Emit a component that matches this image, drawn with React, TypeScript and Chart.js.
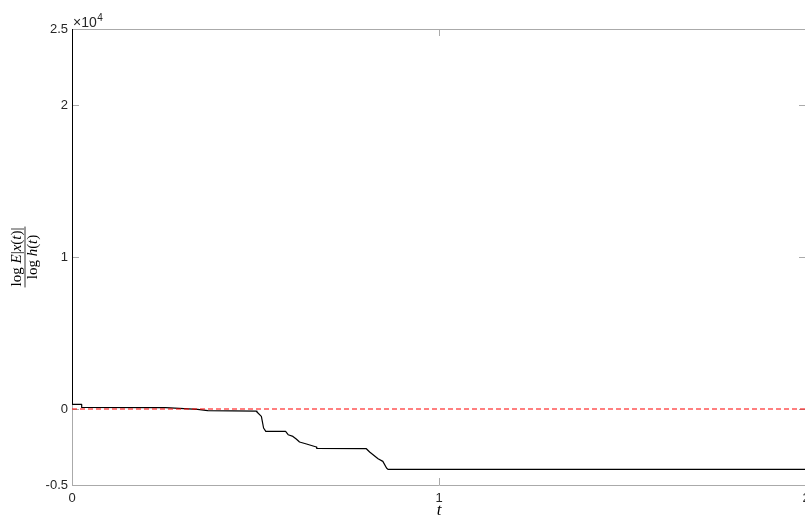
import React, { useEffect, useRef } from "react";
import { Chart, registerables } from "chart.js";

Chart.register(...registerables);

// ---- data ----
const curveT = [0, 0.0011, 0.0264, 0.0264, 0.255, 0.3425, 0.37, 0.502, 0.504, 0.516, 0.522, 0.528, 0.582, 0.589, 0.602, 0.611, 0.62, 0.639, 0.666, 0.667, 0.802, 0.811, 0.834, 0.847, 0.857, 0.861, 2];
const curveY = [25000, 303, 303, 105, 90, -26, -112, -145, -197, -487, -1250, -1474, -1474, -1691, -1803, -1974, -2171, -2303, -2500, -2592, -2612, -2829, -3270, -3447, -3882, -3974, -3974];
const refT = [0, 2];
const refY = [0, 0];
const xTicks = [0, 1, 2];
const xTickLabels = ["0", "1", "2"];
const yTicks = [-5000, 0, 10000, 20000, 25000];
const yTickLabels = ["-0.5", "0", "1", "2", "2.5"];
const yExponentBase = "\u00d710";
const yExponent = "4";
const xTitle = "t";

const TICK_FONT = { family: "'Liberation Sans', Arial, Helvetica, sans-serif", size: 13 };
const TEXT_COLOR = "#262626";
const AXIS_COLOR = "#aaaaaa";
const TICK_LEN = 7;
const SERIF = "'Liberation Serif', 'DejaVu Serif', serif";

const framePlugin = {
  id: "matlabFrame",
  beforeDatasetsDraw(chart: any) {
    const { ctx, chartArea } = chart;
    const { left, right, top, bottom } = chartArea;
    const xs = chart.scales.x;
    const ys = chart.scales.y;
    ctx.save();
    ctx.strokeStyle = AXIS_COLOR;
    ctx.lineWidth = 1;
    ctx.beginPath();
    ctx.rect(Math.round(left) + 0.5, Math.round(top) + 0.5, Math.round(right - left), Math.round(bottom - top));
    ctx.stroke();
    ctx.beginPath();
    for (const v of xTicks) {
      const px = Math.round(xs.getPixelForValue(v)) + 0.5;
      ctx.moveTo(px, bottom);
      ctx.lineTo(px, bottom - TICK_LEN);
      ctx.moveTo(px, top);
      ctx.lineTo(px, top + TICK_LEN);
    }
    for (const v of yTicks) {
      const py = Math.round(ys.getPixelForValue(v)) + 0.5;
      ctx.moveTo(left, py);
      ctx.lineTo(left + TICK_LEN, py);
      ctx.moveTo(right, py);
      ctx.lineTo(right - TICK_LEN, py);
    }
    ctx.stroke();
    ctx.restore();
  },
  afterDraw(chart: any) {
    const { ctx, chartArea } = chart;
    const { left, top, bottom } = chartArea;
    ctx.save();
    // exponent label
    ctx.fillStyle = TEXT_COLOR;
    ctx.textBaseline = "alphabetic";
    ctx.textAlign = "left";
    ctx.font = `14px ${TICK_FONT.family}`;
    ctx.fillText(yExponentBase, left + 1, top - 2);
    const w = ctx.measureText(yExponentBase).width;
    ctx.font = `10px ${TICK_FONT.family}`;
    ctx.fillText(yExponent, left + 1 + w + 0.5, top - 8);

    // x title
    const xs = chart.scales.x;
    ctx.font = `italic 17px ${SERIF}`;
    ctx.textAlign = "center";
    ctx.fillStyle = "#000";
    ctx.fillText(xTitle, xs.getPixelForValue(1), bottom + 30);

    // y title (fraction)
    const cy = (top + bottom) / 2;
    const cx = 25;
    ctx.translate(cx, cy);
    ctx.rotate(-Math.PI / 2);
    const up = `15px ${SERIF}`;
    const it = `italic 15px ${SERIF}`;
    const num: [string, string][] = [["log", up], [" ", up], ["E", it], ["|", up], ["x", it], ["(", up], ["t", it], [")|", up]];
    const den: [string, string][] = [["log", up], [" ", up], ["h", it], ["(", up], ["t", it], [")", up]];
    const measure = (parts: [string, string][]) => parts.reduce((s, [t, f]) => { ctx.font = f; return s + ctx.measureText(t).width; }, 0);
    const drawParts = (parts: [string, string][], y: number) => {
      let x = -measure(parts) / 2;
      ctx.textAlign = "left";
      for (const [t, f] of parts) {
        ctx.font = f;
        ctx.fillText(t, x, y);
        x += ctx.measureText(t).width;
      }
    };
    ctx.fillStyle = "#000";
    ctx.textBaseline = "alphabetic";
    drawParts(num, -4);
    drawParts(den, 12);
    const bw = Math.max(measure(num), measure(den)) + 2;
    ctx.strokeStyle = "#000";
    ctx.lineWidth = 0.8;
    ctx.beginPath();
    ctx.moveTo(-bw / 2, 0);
    ctx.lineTo(bw / 2, 0);
    ctx.stroke();
    ctx.restore();
  },
};

export default function App() {
  const ref = useRef<HTMLCanvasElement | null>(null);
  useEffect(() => {
    if (!ref.current) return;
    const chart = new Chart(ref.current, {
      type: "line",
      data: {
        datasets: [
          {
            data: refT.map((t, i) => ({ x: t, y: refY[i] })),
            borderColor: "#ff0000",
            borderWidth: 1.2,
            borderDash: [5, 3],
            pointRadius: 0,
            fill: false,
            order: 0,
          },
          {
            data: curveT.map((t, i) => ({ x: t, y: curveY[i] })),
            borderColor: "#000000",
            borderWidth: 1.2,
            borderJoinStyle: "round",
            pointRadius: 0,
            fill: false,
            tension: 0,
            cubicInterpolationMode: "default",
            order: 1,
          },
        ],
      },
      options: {
        animation: false,
        responsive: false,
        devicePixelRatio: 1,
        layout: { padding: { top: 29, right: 24, left: 0, bottom: 0 } },
        plugins: { legend: { display: false }, tooltip: { enabled: false } },
        scales: {
          x: {
            type: "linear",
            min: 0,
            max: 2,
            afterBuildTicks: (s: any) => { s.ticks = xTicks.map((v) => ({ value: v })); },
            afterFit: (s: any) => { s.height = 35; },
            grid: { display: false, drawTicks: false },
            border: { display: false },
            ticks: {
              font: TICK_FONT,
              color: TEXT_COLOR,
              padding: 6,
              maxRotation: 0,
              autoSkip: false,
              callback: (v: any) => xTickLabels[xTicks.indexOf(Number(v))] ?? "",
            },
          },
          y: {
            type: "linear",
            min: -5000,
            max: 25000,
            afterBuildTicks: (s: any) => { s.ticks = yTicks.map((v) => ({ value: v })); },
            afterFit: (s: any) => { s.width = 72; },
            grid: { display: false, drawTicks: false },
            border: { display: false },
            ticks: {
              font: TICK_FONT,
              color: TEXT_COLOR,
              padding: 4,
              autoSkip: false,
              callback: (v: any) => yTickLabels[yTicks.indexOf(Number(v))] ?? "",
            },
          },
        },
      },
      plugins: [framePlugin],
    } as any);
    return () => chart.destroy();
  }, []);
  return (
    <div style={{ position: "fixed", left: 0, top: 0, width: 805, height: 520, overflow: "hidden", background: "#fff" }}>
      <canvas ref={ref} width={830} height={520} style={{ display: "block" }} />
    </div>
  );
}
